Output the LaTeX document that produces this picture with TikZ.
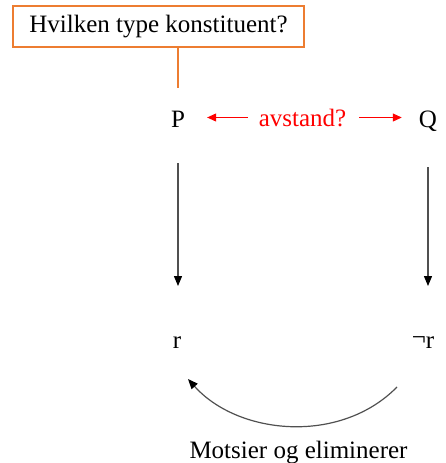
\documentclass[tikz,border=0pt]{standalone}
\usepackage{fontspec}
\setmainfont{Liberation Serif}
\usetikzlibrary{arrows.meta}
\definecolor{boxorange}{HTML}{ED7D31}
\definecolor{pilgra}{HTML}{505050}

\begin{document}
\begin{tikzpicture}[x=1pt, y=-1pt, font=\fontsize{25}{30}\selectfont,
    term/.style={inner sep=0pt, anchor=base},
    pil/.style={pilgra, line width=1.2pt, -{Triangle[length=10pt,width=8pt,black]}},
    rodpil/.style={red, line width=1pt, -{Triangle[length=9pt,width=8pt]}}]
  \useasboundingbox (0,0) rectangle (446,463);
  % Spoersmaal om konstituent
  \node[draw=boxorange, line width=1.2pt, minimum width=291pt, minimum height=41pt,
        inner sep=0pt] (sporsmal) at (158.5,26.5) {Hvilken type konstituent?};
  % Termer
  \node[term] (P) at (178,127) {P};
  \node[term] (Q) at (428,127) {Q};
  \node[term, red] (avstand) at (302.5,126) {avstand?};
  \node[term] (r) at (177,348) {r};
  \node[term] (nr) at (423,348) {\raisebox{3pt}{¬}r};
  \node[term] (motsier) at (298.5,458) {Motsier og eliminerer};
  % Linje fra boksen til P
  \draw[boxorange, line width=1.5pt, shorten >=22pt] (sporsmal.south -| P.north) -- (P.north);
  % Avstand mellom P og Q
  \draw[rodpil, shorten <=11pt, shorten >=22pt] (avstand.west) -- (avstand.west -| P.east);
  \draw[rodpil, shorten <=13pt, shorten >=17pt] (avstand.east) -- (avstand.east -| Q.west);
  % Nedover
  \draw[pil, shorten <=36pt, shorten >=50pt] (P.south) -- (P.south |- r.north);
  \draw[pil, shorten <=36pt, shorten >=50pt] (Q.south) -- (Q.south |- r.north);
  % Bue fra ¬r til r
  \coordinate (buestart) at (397,387);
  \coordinate (bueslutt) at (188,379);
  \draw[pil] (buestart) .. controls (340,445) and (238,435) .. (bueslutt);
\end{tikzpicture}
\end{document}
